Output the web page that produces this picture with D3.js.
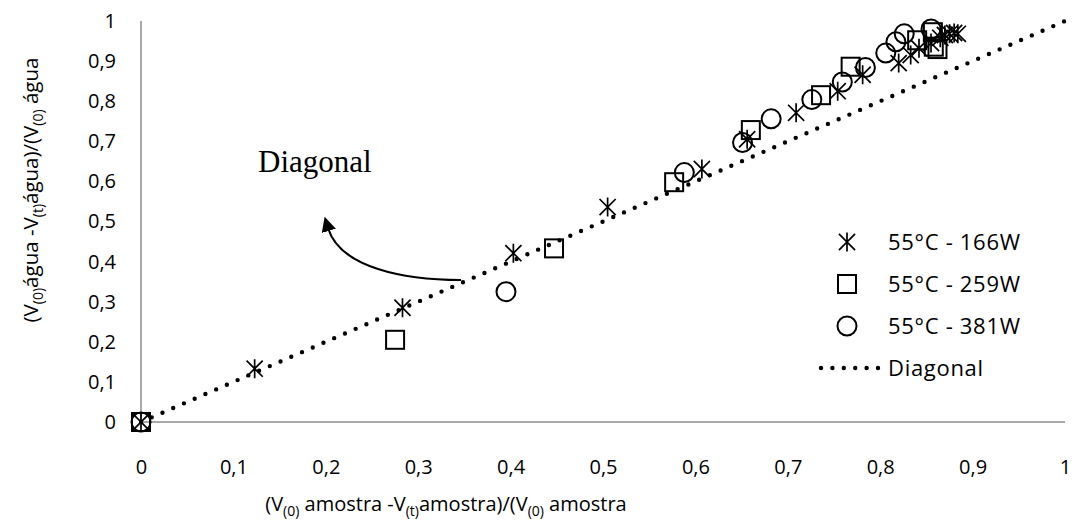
<!DOCTYPE html>
<html><head><meta charset="utf-8">
<script src="https://cdn.jsdelivr.net/npm/d3@7"></script>
<style>
body{margin:0;background:#fff;}
svg{display:block;}
.lbl{font-family:"Open Sans",sans-serif;font-size:20px;fill:#000;}
.ttl{font-family:"Open Sans",sans-serif;fill:#000;}
.leg{font-family:"Open Sans",sans-serif;font-size:22px;letter-spacing:0.7px;fill:#000;}
</style></head>
<body>
<svg id="c" width="1078" height="523"></svg>
<script>
const xTickValues = [0,0.1,0.2,0.3,0.4,0.5,0.6,0.7,0.8,0.9,1];
const yTickValues = [0,0.1,0.2,0.3,0.4,0.5,0.6,0.7,0.8,0.9,1];
const seriesNames = ["55°C - 166W","55°C - 259W","55°C - 381W","Diagonal"];
const s166x = [0,0.123,0.283,0.403,0.505,0.607,0.656,0.709,0.754,0.781,0.820,0.833,0.842,0.855,0.865,0.870,0.875,0.880,0.884];
const s166y = [0,0.133,0.285,0.421,0.536,0.631,0.705,0.771,0.825,0.866,0.895,0.915,0.932,0.945,0.958,0.965,0.968,0.970,0.968];
const s259x = [0,0.275,0.447,0.577,0.660,0.736,0.768,0.840,0.857,0.858,0.862];
const s259y = [0,0.205,0.433,0.598,0.728,0.815,0.886,0.952,0.972,0.936,0.930];
const s381x = [0,0.395,0.588,0.651,0.682,0.726,0.759,0.784,0.806,0.817,0.826,0.855];
const s381y = [0,0.325,0.622,0.697,0.756,0.804,0.848,0.884,0.920,0.948,0.968,0.980];
const diagX = [0,1];
const diagY = [0,1];

const svg = d3.select("#c");
const x = d3.scaleLinear().domain([0,1]).range([141,1065]);
const y = d3.scaleLinear().domain([0,1]).range([422,21]);
const fmt = v => d3.format("")(+v.toFixed(1)).replace(".",",");

svg.append("line").attr("x1",x(0)).attr("x2",x(0)).attr("y1",y(1)).attr("y2",y(0)).attr("stroke","#8c8c8c").attr("stroke-width",1.5);
svg.append("line").attr("x1",x(0)).attr("x2",x(1)).attr("y1",y(0)).attr("y2",y(0)).attr("stroke","#8c8c8c").attr("stroke-width",1.5);

const xa = svg.append("g").attr("transform",`translate(0,${y(0)})`)
  .call(d3.axisBottom(x).tickValues(xTickValues).tickFormat(fmt).tickSize(0).tickPadding(38));
const ya = svg.append("g").attr("transform",`translate(${x(0)},0)`)
  .call(d3.axisLeft(y).tickValues(yTickValues).tickFormat(fmt).tickSize(0).tickPadding(25));
[xa,ya].forEach(g=>{g.select(".domain").remove();g.attr("font-size",null).attr("font-family",null);g.selectAll("text").attr("class","lbl");});

const line = d3.line().x(d=>x(d[0])).y(d=>y(d[1]));
svg.append("path").attr("d",line(diagX.map((v,i)=>[v,diagY[i]])))
  .attr("fill","none").attr("stroke","#000").attr("stroke-width",4.4)
  .attr("stroke-linecap","round").attr("stroke-dasharray","0 11.7");

function star(g,cx,cy){
  const r=9.5, d=r*0.85;
  g.append("path").attr("d",`M${cx-d},${cy-d}L${cx+d},${cy+d}M${cx-d},${cy+d}L${cx+d},${cy-d}M${cx},${cy-r}L${cx},${cy+r}`)
   .attr("stroke","#000").attr("stroke-width",1.7).attr("fill","none");
}
function square(g,cx,cy){
  g.append("rect").attr("x",cx-9).attr("y",cy-9).attr("width",18).attr("height",18)
   .attr("fill","none").attr("stroke","#000").attr("stroke-width",2);
}
function circle(g,cx,cy){
  g.append("circle").attr("cx",cx).attr("cy",cy).attr("r",9.5)
   .attr("fill","none").attr("stroke","#000").attr("stroke-width",2);
}
const gm = svg.append("g");
s381x.forEach((v,i)=>circle(gm,x(v),y(s381y[i])));
s259x.forEach((v,i)=>square(gm,x(v),y(s259y[i])));
s166x.forEach((v,i)=>star(gm,x(v),y(s166y[i])));

const lg = svg.append("g");
const lx = 847, rows=[242,284,326,368];
star(lg,lx,rows[0]); square(lg,lx,rows[1]); circle(lg,lx,rows[2]);
lg.append("line").attr("x1",821).attr("x2",878).attr("y1",rows[3]).attr("y2",rows[3])
  .attr("stroke","#000").attr("stroke-width",4.4).attr("stroke-linecap","round").attr("stroke-dasharray","0 11.4");
seriesNames.forEach((n,i)=>{
  lg.append("text").attr("class","leg").attr("x",888).attr("y",rows[i]+8).text(n);
});

const xt = svg.append("text").attr("class","ttl").style("font-size","20px").attr("text-anchor","middle").attr("x",446).attr("y",511);
xt.append("tspan").text("(V");
xt.append("tspan").style("font-size","14px").attr("dy",5).text("(0)");
xt.append("tspan").attr("dy",-5).text(" amostra -V");
xt.append("tspan").style("font-size","14px").attr("dy",5).text("(t)");
xt.append("tspan").attr("dy",-5).text("amostra)/(V");
xt.append("tspan").style("font-size","14px").attr("dy",5).text("(0)");
xt.append("tspan").attr("dy",-5).text(" amostra");

const yt = svg.append("text").attr("class","ttl").style("font-size","20.5px").attr("text-anchor","middle")
  .attr("transform","translate(38,190) rotate(-90)");
yt.append("tspan").text("(V");
yt.append("tspan").style("font-size","14px").attr("dy",5).text("(0)");
yt.append("tspan").attr("dy",-5).text("água -V");
yt.append("tspan").style("font-size","14px").attr("dy",5).text("(t)");
yt.append("tspan").attr("dy",-5).text("água)/(V");
yt.append("tspan").style("font-size","14px").attr("dy",5).text("(0)");
yt.append("tspan").attr("dy",-5).text(" água");

svg.append("text").attr("x",258).attr("y",172)
  .attr("font-family","'Liberation Serif','Times New Roman',serif").attr("font-size",31).attr("fill","#000").text("Diagonal");
svg.append("defs").append("marker").attr("id","ah").attr("viewBox","0 0 10 10").attr("refX",2).attr("refY",5)
  .attr("markerWidth",7).attr("markerHeight",7).attr("orient","auto")
  .append("path").attr("d","M0,0L10,5L0,10z").attr("fill","#000");
svg.append("path").attr("d","M461,280 C405,280 340,268 328,228")
  .attr("fill","none").attr("stroke","#000").attr("stroke-width",2.1).attr("marker-end","url(#ah)");
</script>
</body></html>
